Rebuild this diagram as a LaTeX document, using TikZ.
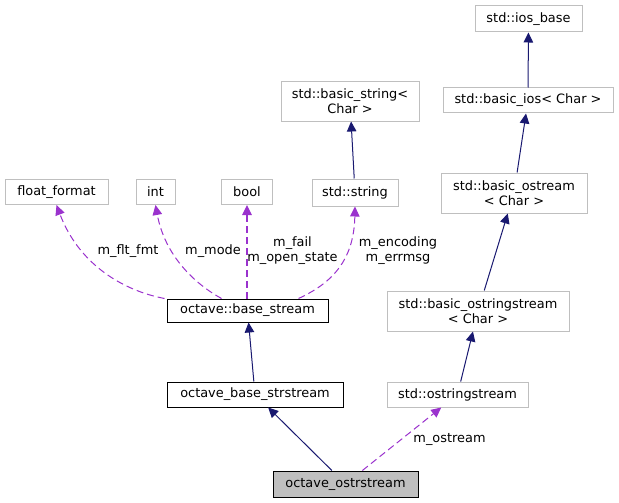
\documentclass[tikz,border=0pt]{standalone}
\usepackage{fontspec}
\setmainfont{DejaVu Sans}
\usetikzlibrary{arrows.meta,calc}

\definecolor{edgeblue}{HTML}{191970}
\definecolor{edgepurple}{HTML}{9A32CD}
\definecolor{boxgray}{HTML}{BFBFBF}

\begin{document}
\begin{tikzpicture}[
    x=1pt, y=-1pt,
    box/.style={rectangle, draw=boxgray, fill=white, line width=1pt, inner sep=0pt, align=center, font=\fontsize{12.9}{15}\selectfont},
    ownbox/.style={box, draw=black},
    inherit/.style={-{Triangle[length=10pt, width=9.5pt]}, color=edgeblue, line width=1pt},
    member/.style={-{Triangle[length=10pt, width=9.5pt]}, color=edgepurple, line width=1pt, dash pattern=on 7pt off 4pt},
    lbl/.style={align=center, inner sep=0pt, font=\fontsize{12.9}{15}\selectfont},
]
\useasboundingbox (0,0) rectangle (619,503);

% Member types along the top left
\node[box, minimum width=103, minimum height=25] (fltfmt) at (56.5,192) {float\_format};
\node[box, minimum width=39, minimum height=25] (int) at (155.5,192) {int};
\node[box, minimum width=51, minimum height=25] (bool) at (247,192) {bool};
\node[box, minimum width=86, minimum height=27] (string) at (355,192.5) {std::string};
\node[box, minimum width=138, minimum height=39] (basicstring) at (350,101.5) {std::basic\_string<\\Char >};

% Standard stream hierarchy on the right
\node[box, minimum width=107, minimum height=26] (iosbase) at (528.5,19) {std::ios\_base};
\node[box, minimum width=170, minimum height=25] (basicios) at (528,100.5) {std::basic\_ios< Char >};
\node[box, minimum width=146, minimum height=40] (basicostream) at (514,193) {std::basic\_ostream\\< Char >};
\node[box, minimum width=182, minimum height=40] (basicoss) at (478,311) {std::basic\_ostringstream\\< Char >};
\node[box, minimum width=141, minimum height=25] (oss) at (457.5,394.5) {std::ostringstream};

% Octave classes
\node[ownbox, minimum width=161, minimum height=23] (basestream) at (247.5,310.5) {octave::base\_stream};
\node[ownbox, minimum width=176, minimum height=25] (basestrstream) at (255,394.5) {octave\_base\_strstream};
\node[ownbox, fill=boxgray, minimum width=145, minimum height=26] (ostrstream) at (345.5,484) {octave\_ostrstream};

% Inheritance
\draw[inherit] (string) -- (basicstring);
\draw[inherit] (basicios) -- (iosbase);
\draw[inherit] (basicostream) -- (basicios);
\draw[inherit] (basicoss) -- (basicostream);
\draw[inherit] (oss) -- (basicoss);
\draw[inherit] (basestrstream) -- (basestream);
\draw[inherit] (ostrstream) -- (basestrstream);

% Members of base_stream
\draw[member] ($(basestream.north west)+(-2,0)$) .. controls (120,290) and (78,262) .. (fltfmt.south);
\draw[member] ($(basestream.north west)+(55,0)$) .. controls (195,284) and (165,256) .. (int.south);
\draw[member, line width=1.2pt] (basestream.north -| bool.south) -- (bool.south);
\draw[member] ($(basestream.north east)+(-30,0)$) .. controls (330,284) and (354,262) .. (string.south);
\draw[member] (ostrstream) -- (oss);

% Member names
\node[lbl] (lflt) at (128,251) {m\_flt\_fmt};
\node[lbl] (lmode) at (213,251) {m\_mode};
\node[lbl] (lfail) at (292.5,251) {m\_fail\\m\_open\_state};
\node[lbl] (lenc) at (398,251) {m\_encoding\\m\_errmsg};
\node[lbl] (lost) at (449.5,439) {m\_ostream};

\end{tikzpicture}
\end{document}
